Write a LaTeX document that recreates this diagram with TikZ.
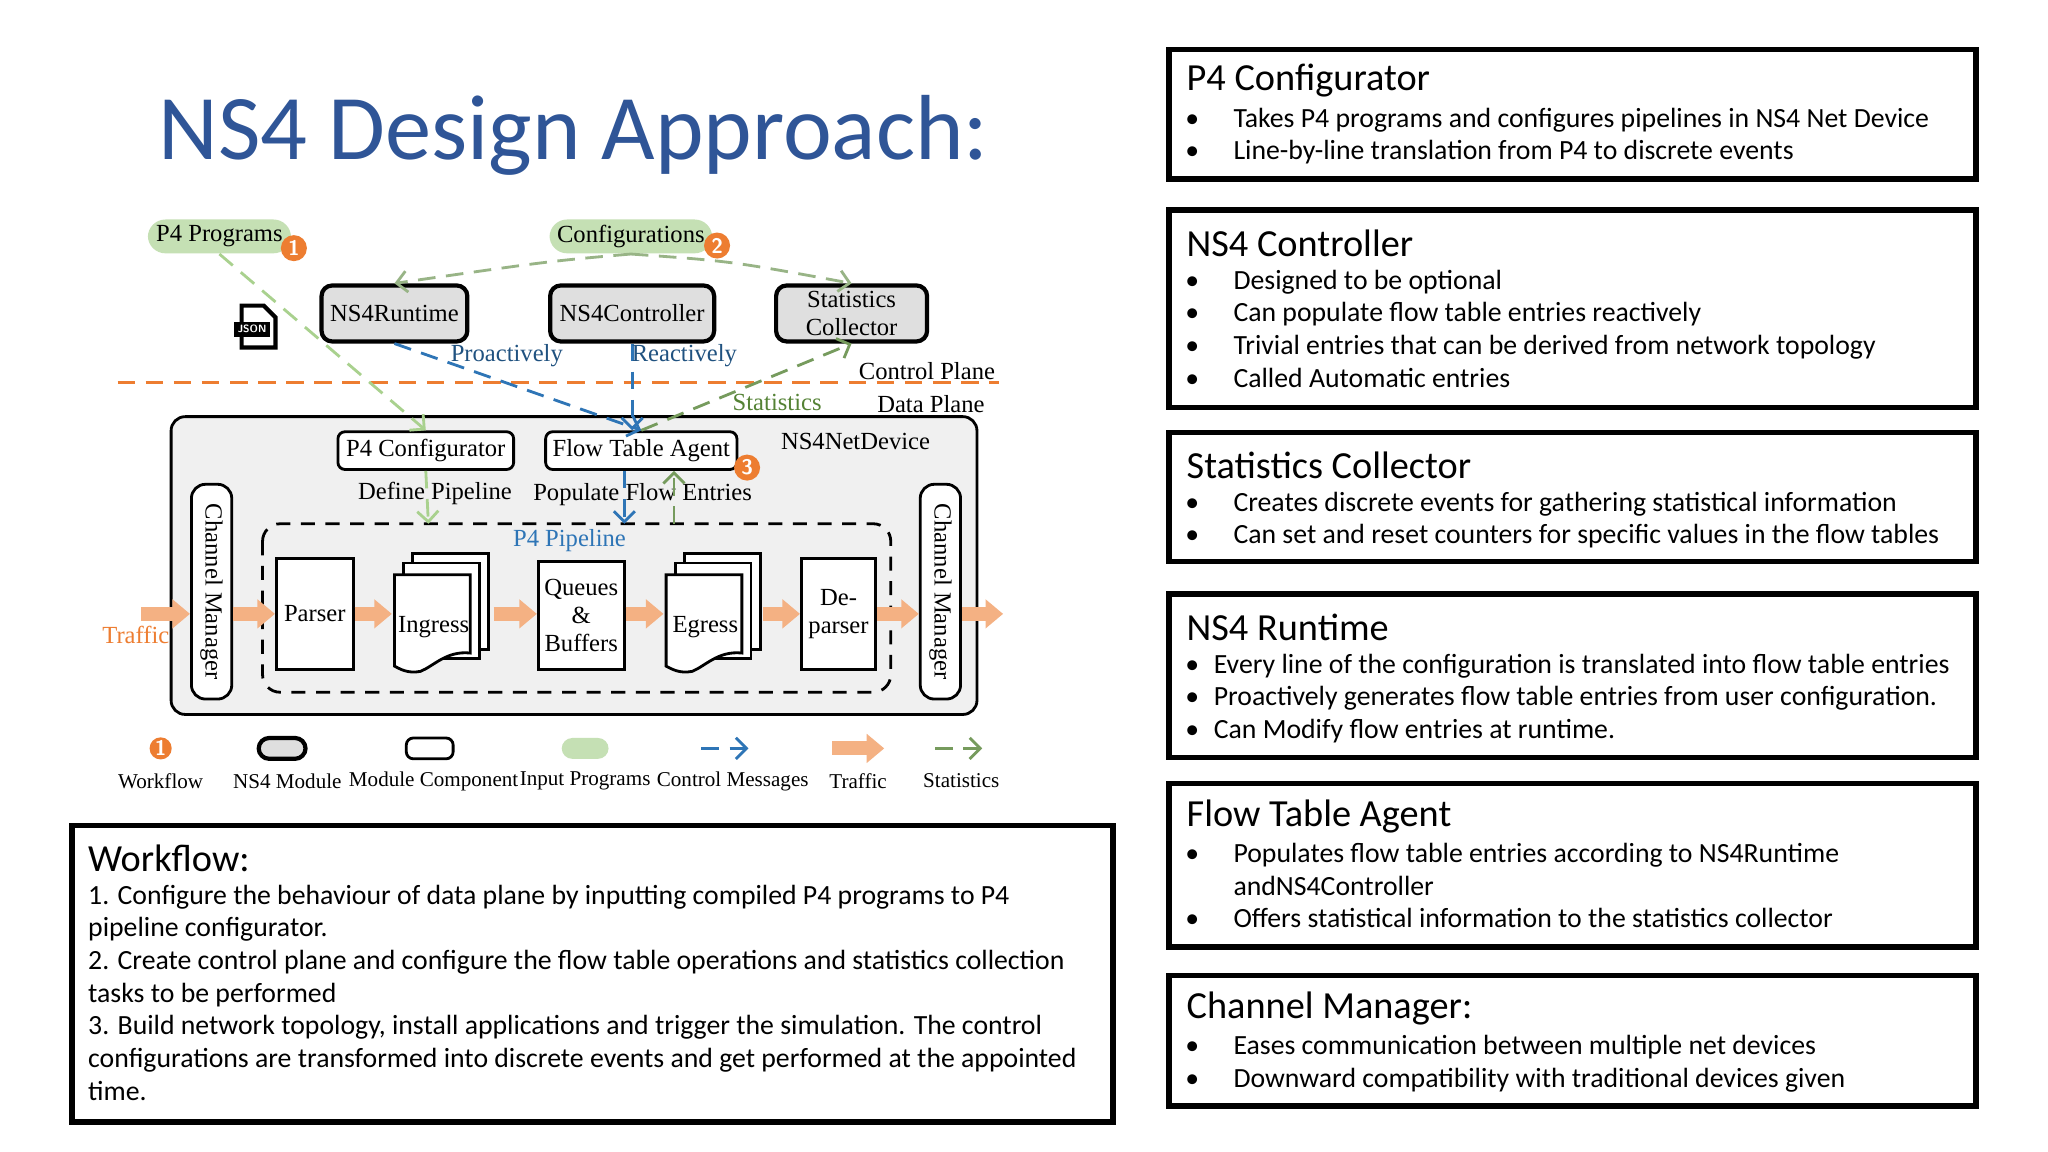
\documentclass[tikz,border=0pt]{standalone}
\usepackage{fontspec}
\setmainfont{Carlito}
\newfontfamily\tms{Liberation Serif}
\usetikzlibrary{arrows.meta,shapes.geometric,calc}
\definecolor{ttl}{RGB}{47,85,151}
\definecolor{pill}{RGB}{197,224,180}
\definecolor{org}{RGB}{237,125,49}
\definecolor{traf}{RGB}{244,177,131}
\definecolor{ctl}{RGB}{46,117,182}
\definecolor{stat}{RGB}{84,130,53}
\definecolor{lg}{RGB}{169,209,142}
\definecolor{dev}{RGB}{240,240,240}
\newcommand{\bl}[2]{\makebox[#1][l]{\textbullet}#2}
\def\p{0.3703pt}
\begin{document}
\begin{tikzpicture}[x=0.013061cm,y=-0.013061cm,
 dg/.style={font=\tms\fontsize{7}{8}\selectfont},
 mod/.style={draw,very thick,rounded corners=3pt,fill=dev!85!gray,dg,align=center,inner sep=0},
 comp/.style={draw,thick,rounded corners=2pt,fill=white,dg,inner sep=0},
 blk/.style={draw,thick,fill=white,dg,align=center,inner sep=0},
 pil/.style={fill=pill,rounded corners=5pt,dg,inner sep=0},
 badge/.style={circle,fill=org,text=white,font=\sffamily\bfseries\fontsize{6}{6}\selectfont,inner sep=0,minimum size=20*\p},
 tbox/.style={draw,line width=1.6pt},
 ttlf/.style={font=\fontsize{10.9}{13}\selectfont,anchor=west,inner sep=0},
 btx/.style={font=\fontsize{7.9}{9.3}\selectfont,align=left,anchor=north west,inner sep=0},
 traffic/.style={traf,line width=4pt,-{Triangle[length=5pt,width=8pt]}},
 ctla/.style={ctl,thick,dash pattern=on 5pt off 3pt,-{Straight Barb[length=3pt,width=6pt]}},
 sta/.style={stat!80,thick,dash pattern=on 5pt off 3pt,-{Straight Barb[length=3pt,width=6pt]}},
 lga/.style={lg,thick,dash pattern=on 5pt off 3pt,-{Straight Barb[length=3pt,width=6pt]}},
 lbl/.style={dg,inner sep=1}]
\useasboundingbox[fill=white] (0,0) rectangle (1568,882);
% title
\node[anchor=west,text=ttl,font=\fontsize{26.3}{30}\selectfont,inner sep=0] (title) at (121,104) {NS4 Design Approach:};
% right boxes
\draw[tbox] (895,38) rectangle (1513,137);
\node[ttlf] (t1) at (908,62) {P4 Configurator};
\node[btx] (b1) at (907,82) {\bl{13.7pt}{Takes P4 programs and configures pipelines in NS4 Net Device}\\\bl{13.7pt}{Line-by-line translation from P4 to discrete events}};
\draw[tbox] (895,161) rectangle (1513,312);
\node[ttlf] (t2) at (908,186) {NS4 Controller};
\node[btx] (b2) at (907,206) {\bl{13.7pt}{Designed to be optional}\\\bl{13.7pt}{Can populate flow table entries reactively}\\\bl{13.7pt}{Trivial entries that can be derived from network topology}\\\bl{13.7pt}{Called Automatic entries}};
\draw[tbox] (895,331) rectangle (1513,430);
\node[ttlf] (t3) at (908,356) {Statistics Collector};
\node[btx] (b3) at (907,376) {\bl{13.7pt}{Creates discrete events for gathering statistical information}\\\bl{13.7pt}{Can set and reset counters for specific values in the flow tables}};
\draw[tbox] (895,455) rectangle (1513,580);
\node[ttlf] (t4) at (908,480) {NS4 Runtime};
\node[btx] (b4) at (907,500) {\bl{8.1pt}{Every line of the configuration is translated into flow table entries}\\\bl{8.1pt}{Proactively generates flow table entries from user configuration.}\\\bl{8.1pt}{Can Modify flow entries at runtime.}};
\draw[tbox] (895,600) rectangle (1513,725);
\node[ttlf] (t5) at (908,625) {Flow Table Agent};
\node[btx] (b5) at (907,645) {\bl{13.7pt}{Populates flow table entries according to NS4Runtime}\\\hspace*{13.7pt}andNS4Controller\\\bl{13.7pt}{Offers statistical information to the statistics collector}};
\draw[tbox] (895,747) rectangle (1513,847);
\node[ttlf] (t6) at (908,772) {Channel Manager:};
\node[btx] (b6) at (907,792) {\bl{13.7pt}{Eases communication between multiple net devices}\\\bl{13.7pt}{Downward compatibility with traditional devices given}};
% workflow box
\draw[tbox] (55,632) rectangle (852,859);
\node[ttlf] (tw) at (67,657) {Workflow:};
\node[btx] (bw) at (67,677) {1. Configure the behaviour of data plane by inputting compiled P4 programs to P4\\pipeline configurator.\\2. Create control plane and configure the flow table operations and statistics collection\\tasks to be performed\\3. Build network topology, install applications and trigger the simulation. The control\\configurations are transformed into discrete events and get performed at the appointed\\time.};
% ---- diagram ----
\draw[org,thick,dash pattern=on 5pt off 3pt] (90,293) -- (765,293);
\node[lbl,anchor=east] (cp) at (765,284) {Control Plane};
\node[lbl,anchor=east] (dp) at (757,309) {Data Plane};
\draw[thick,rounded corners=4pt,fill=dev] (131,319) rectangle (748,547);
\node[lbl] (netdev) at (655,338) {NS4NetDevice};
\node[pil,minimum width=110*\p,minimum height=26*\p] (p4p) at (168,181) {P4 Programs};
\node[badge] (bd1) at (225,190) {1};
\node[pil,minimum width=125*\p,minimum height=26*\p] (cfg) at (483,181) {Configurations};
\node[badge] (bd2) at (549,188) {2};
% json icon
\draw[very thick,fill=white] (185,234) -- (202,234) -- (211,243) -- (211,266) -- (185,266) -- cycle;
\node[fill=black,text=white,font=\sffamily\bfseries\fontsize{3}{3}\selectfont,inner sep=1] (json) at (193,252) {JSON};
\node[mod,minimum width=112*\p,minimum height=43*\p] (rt) at (302,240) {NS4Runtime};
\node[mod,minimum width=126*\p,minimum height=43*\p] (ctl) at (484,240) {NS4Controller};
\node[mod,minimum width=116*\p,minimum height=43*\p] (sc) at (652,240) {Statistics\\Collector};
\node[comp,minimum width=135*\p,minimum height=29*\p] (pc) at (326,345) {P4 Configurator};
\node[comp,minimum width=147*\p,minimum height=29*\p] (fta) at (491,345) {Flow Table Agent};
\node[badge] (bd3) at (572,358) {3};
\node[lbl] (dpl) at (333,378) {Define Pipeline};
\node[lbl] (pfe) at (492,379) {Populate Flow Entries};
\draw[thick,dash pattern=on 4pt off 3pt,rounded corners=5pt] (201,401) rectangle (682,530);
\coordinate (pipN1) at (328,401);
\coordinate (pipN2) at (478,401);
\coordinate (pipN3) at (516,401);
\node[lbl,text=ctl] (ppl) at (436,414) {P4 Pipeline};
\node[comp,minimum width=31*\p,minimum height=165*\p,rounded corners=4pt] (cml) at (162,453) {};
\node[lbl,rotate=-90] at (cml) {Channel Manager};
\node[comp,minimum width=31*\p,minimum height=165*\p,rounded corners=4pt] (cmr) at (720,453) {};
\node[lbl,rotate=-90] at (cmr) {Channel Manager};
\node[blk,minimum width=59*\p,minimum height=85*\p] (par) at (241,470) {Parser};
\node[blk,minimum width=66*\p,minimum height=83*\p] (qb) at (445,471) {Queues\\\&\\Buffers};
\node[blk,minimum width=57*\p,minimum height=85*\p] (dep) at (642,470) {De-\\parser};
% documents
\foreach \n/\x/\t in {ing/302/Ingress,egr/510/Egress}{
 \foreach \d in {14,7}{
  \draw[thick,fill=white] (\x+\d,438-\d) rectangle (\x+\d+58,504-\d+7);}
 \draw[thick,fill=white] (\x,440) -- (\x+58,440) -- (\x+58,500) .. controls (\x+40,498) and (\x+30,510) .. (\x+20,514) .. controls (\x+10,516) and (\x+4,512) .. (\x,510) -- cycle;
 \node[lbl] (\n) at (\x+30,480) {\t};}
\node[lbl,text=org] (trl) at (104,486) {Traffic};
\coordinate (tin) at (108,470);
\coordinate (tout) at (768,470);
\draw[traffic] (tin) -- (cml.west |- tin);
\draw[traffic] (cml.east |- tin) -- (par.west |- tin);
\draw[traffic] (par.east |- tin) -- (300,470);
\draw[traffic] (378,470) -- (qb.west |- tin);
\draw[traffic] (qb.east |- tin) -- (508,470);
\draw[traffic] (584,470) -- (dep.west |- tin);
\draw[traffic] (dep.east |- tin) -- (cmr.west |- tin);
\draw[traffic] (cmr.east |- tin) -- (tout);
% connectors
\draw[lga] (p4p.south) -- (pc.north);
\draw[sta,stat!60] (cfg.south) .. controls (420,200) .. (rt.north);
\draw[sta,stat!60] (cfg.south) .. controls (560,200) .. (sc.north);
\draw[ctla] (rt.south) -- (fta.north);
\draw[ctla] (ctl.south) -- (ctl.south |- fta.north);
\draw[sta] (fta.north) -- (sc.south);
\node[lbl,text=ctl!70!black] (pro) at (388,272) {Proactively};
\node[lbl,text=ctl!70!black] (rea) at (524,272) {Reactively};
\node[lbl,text=stat] (stl) at (595,308) {Statistics};
\draw[lga] (pc.south) -- (pipN1);
\draw[ctla] (fta.south -| pipN2) -- (pipN2);
\draw[sta] (pipN3) -- (fta.south -| pipN3);
% legend
\node[badge,minimum size=17*\p] (lw) at (123,573) {1};
\node[mod,minimum width=36*\p,minimum height=16*\p] (lm) at (216,573) {};
\node[comp,minimum width=36*\p,minimum height=16*\p] (lc) at (329,573) {};
\node[pil,minimum width=36*\p,minimum height=16*\p,rounded corners=3pt] (lp) at (448,573) {};
\coordinate (lca) at (537,573); \coordinate (lcb) at (573,573);
\draw[ctla] (lca) -- (lcb);
\coordinate (lta) at (637,573); \coordinate (ltb) at (677,573);
\draw[traffic] (lta) -- (ltb);
\coordinate (lsa) at (716,573); \coordinate (lsb) at (752,573);
\draw[sta] (lsa) -- (lsb);
\foreach \x/\t in {123/Workflow,220/NS4 Module,332/Module Component,448/Input Programs,561/Control Messages,657/Traffic,736/Statistics}
 \node[lbl,font=\tms\fontsize{6}{7}\selectfont] at (\x,598) {\t};
\end{tikzpicture}
\end{document}
